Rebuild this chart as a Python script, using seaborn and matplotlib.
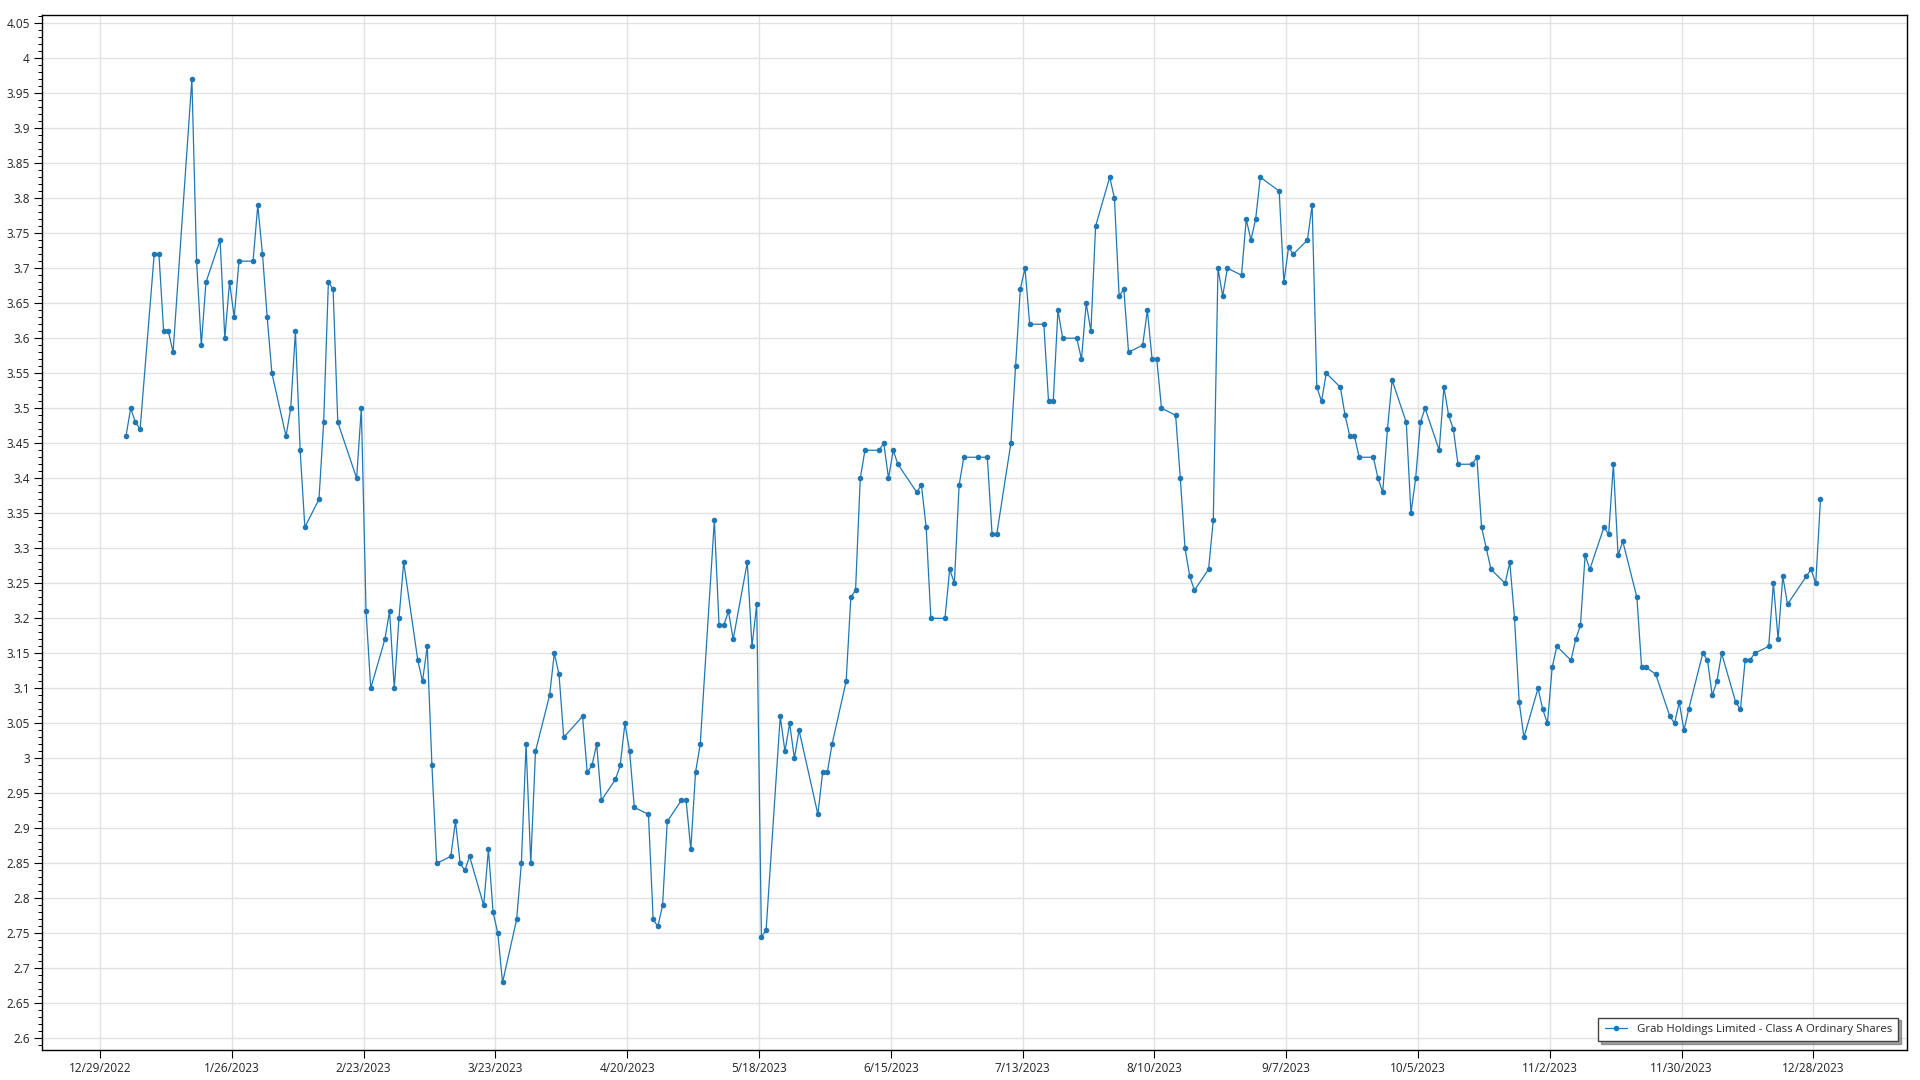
import pandas as pd
import numpy as np
import matplotlib
matplotlib.use("Agg")
import matplotlib.pyplot as plt
from matplotlib.ticker import MultipleLocator, FuncFormatter
import seaborn as sns

# daily closing prices, 2023
jan = [3.46, 3.50, 3.48, 3.47, 3.72, 3.72, 3.61, 3.61, 3.58, 3.97,
       3.71, 3.59, 3.68, 3.74, 3.60, 3.68, 3.63, 3.71, 3.71, 3.79]
feb = [3.72, 3.63, 3.55, 3.46, 3.50, 3.61, 3.44, 3.33, 3.37, 3.48,
       3.68, 3.67, 3.48, 3.40, 3.50, 3.21, 3.10, 3.17, 3.21]
mar = [3.10, 3.20, 3.28, 3.14, 3.11, 3.16, 2.99, 2.85, 2.86, 2.91,
       2.85, 2.84, 2.86, 2.79, 2.87, 2.78, 2.75, 2.68, 2.77, 2.85,
       3.02, 2.85, 3.01]
apr = [3.09, 3.15, 3.12, 3.03, 3.06, 2.98, 2.99, 3.02, 2.94, 2.97,
       2.99, 3.05, 3.01, 2.93, 2.92, 2.77, 2.76, 2.79, 2.91]
may = [2.94, 2.94, 2.87, 2.98, 3.02, 3.34, 3.19, 3.19, 3.21, 3.17,
       3.28, 3.16, 3.22, 2.745, 2.755, 3.06, 3.01, 3.05, 3.00, 3.04,
       2.92, 2.98]
jun = [2.98, 3.02, 3.11, 3.23, 3.24, 3.40, 3.44, 3.44, 3.45, 3.40,
       3.44, 3.42, 3.38, 3.39, 3.33, 3.20, 3.20, 3.27, 3.25, 3.39, 3.43]
jul = [3.43, 3.43, 3.32, 3.32, 3.45, 3.56, 3.67, 3.70, 3.62, 3.62,
       3.51, 3.51, 3.64, 3.60, 3.60, 3.57, 3.65, 3.61, 3.76, 3.83]
aug = [3.80, 3.66, 3.67, 3.58, 3.59, 3.64, 3.57, 3.57, 3.50, 3.49,
       3.40, 3.30, 3.26, 3.24, 3.27, 3.34, 3.70, 3.66, 3.70, 3.69,
       3.77, 3.74, 3.77]
sep = [3.83, 3.81, 3.68, 3.73, 3.72, 3.74, 3.79, 3.53, 3.51, 3.55,
       3.53, 3.49, 3.46, 3.46, 3.43, 3.43, 3.40, 3.38, 3.47, 3.54]
oct_ = [3.48, 3.35, 3.40, 3.48, 3.50, 3.44, 3.53, 3.49, 3.47, 3.42,
        3.42, 3.43, 3.33, 3.30, 3.27, 3.25, 3.28, 3.20, 3.08, 3.03,
        3.10, 3.07]
nov = [3.05, 3.13, 3.16, 3.14, 3.17, 3.19, 3.29, 3.27, 3.33, 3.32,
       3.42, 3.29, 3.31, 3.23, 3.13, 3.13, 3.12, 3.06, 3.05, 3.08, 3.04]
dec = [3.07, 3.15, 3.14, 3.09, 3.11, 3.15, 3.08, 3.07, 3.14, 3.14,
       3.15, 3.16, 3.25, 3.17, 3.26, 3.22, 3.26, 3.27, 3.25, 3.37]

# US market holidays 2023
holidays = ["2023-01-02", "2023-01-16", "2023-02-20", "2023-04-07", "2023-05-29",
            "2023-06-19", "2023-07-04", "2023-09-04", "2023-11-23", "2023-12-25"]

series_name = "Grab Holdings Limited - Class A Ordinary Shares"
tick_dates = pd.date_range("2022-12-29", "2023-12-28", freq="28D")

prices = jan + feb + mar + apr + may + jun + jul + aug + sep + oct_ + nov + dec
trade_days = pd.bdate_range("2023-01-03", "2023-12-29", freq="C", holidays=holidays)
# points sit at midday in the original, half a day right of the date ticks
df = pd.DataFrame({"Date": trade_days + pd.Timedelta(hours=12), "Close": prices})

sns.set_theme(style="ticks")
plt.rcParams["font.family"] = ["Open Sans", "DejaVu Sans"]

fig = plt.figure(figsize=(19.2, 10.8), dpi=100)
ax = fig.add_axes([0.0220, 0.0281, 0.9710, 0.9583])

sns.lineplot(data=df, x="Date", y="Close", ax=ax, color="#1f77b4",
             linewidth=0.9, marker="o", markersize=4, markeredgewidth=0,
             label=series_name)

ax.set_xlim(pd.Timestamp("2022-12-16 17:00"), pd.Timestamp("2024-01-16 19:00"))
ax.set_ylim(2.584, 4.062)

ax.set_xticks(tick_dates)
ax.xaxis.set_major_formatter(FuncFormatter(
    lambda v, pos: (lambda d: f"{d.month}/{d.day}/{d.year}")(matplotlib.dates.num2date(v))))
ax.yaxis.set_major_locator(MultipleLocator(0.05))
ax.yaxis.set_minor_locator(MultipleLocator(0.01))
ax.yaxis.set_major_formatter(FuncFormatter(lambda v, pos: f"{round(v, 2):g}"))

ax.tick_params(axis="both", which="major", direction="out", length=6, width=0.8,
               color="black", labelsize=8.5, labelcolor="#222222", pad=3)
ax.tick_params(axis="y", which="minor", direction="out", length=3, width=0.7, color="black")
ax.tick_params(axis="x", which="minor", length=0)

ax.grid(True, which="major", color="#e2e2e2", linewidth=1)
ax.set_axisbelow(True)
for s in ax.spines.values():
    s.set_color("black")
    s.set_linewidth(1)

ax.set_xlabel("")
ax.set_ylabel("")

leg = ax.legend(loc="lower right", frameon=True, fancybox=False, shadow=True,
                edgecolor="#444444", framealpha=1, fontsize=8.2,
                borderaxespad=0.75, handlelength=2.0, borderpad=0.55)
leg.get_frame().set_linewidth(1)

fig.savefig("out.png", dpi=100, facecolor="white")
